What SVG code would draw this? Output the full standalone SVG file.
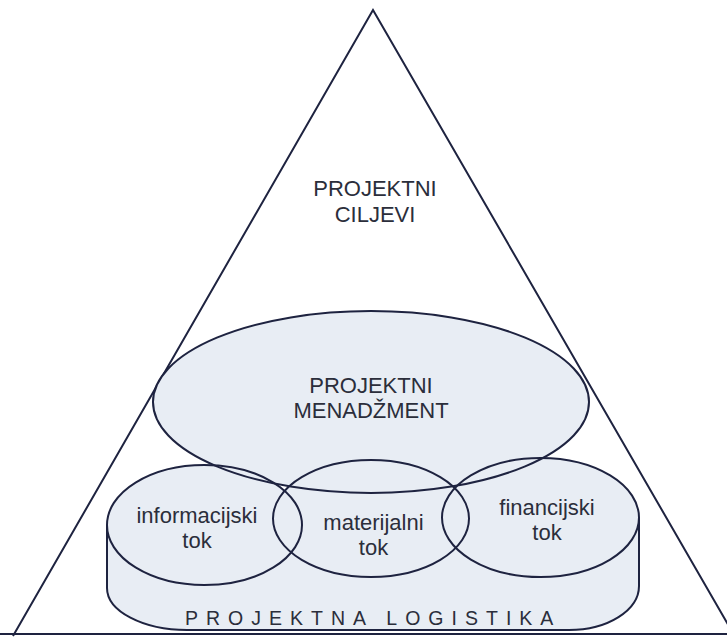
<svg xmlns="http://www.w3.org/2000/svg" xmlns:xlink="http://www.w3.org/1999/xlink" width="727" height="639" viewBox="0 0 727 639">
  <style>
    .ln { fill: none; stroke: #1e2340; stroke-width: 2; }
    .fl { fill: #e8edf4; stroke: none; }
    .t { font-family: "Liberation Sans", Arial, sans-serif; font-size: 22px; fill: #2b2e3b; text-anchor: middle; }
    .lt { font-family: "Liberation Sans", Arial, sans-serif; font-size: 19.5px; fill: #2b2e3b; letter-spacing: 8px; }
  </style>
  <defs>
    <ellipse id="e-mgmt" cx="371" cy="402" rx="218" ry="91"/>
    <ellipse id="e-info" cx="204.5" cy="525" rx="97.5" ry="60"/>
    <ellipse id="e-mat" cx="371" cy="518.5" rx="98" ry="58.5"/>
    <ellipse id="e-fin" cx="540.5" cy="517.5" rx="98.5" ry="59.5"/>
    <path id="cyl-fill" d="M107,525 V588 A80,42 0 0 0 187,630 H569 A70,44 0 0 0 639,586 V518 Z"/>
  </defs>
  <rect width="727" height="639" fill="#ffffff"/>

  <g id="triangle">
    <polyline class="ln" points="13,636 373,10 737,640"/>
    <line class="ln" x1="0" y1="634" x2="727" y2="634" stroke-width="2.6"/>
    <text class="t" x="375" y="196">PROJEKTNI</text>
    <text class="t" x="375" y="222">CILJEVI</text>
  </g>

  <g id="fills">
    <use xlink:href="#cyl-fill" class="fl"/>
    <use xlink:href="#e-mgmt" class="fl"/>
    <use xlink:href="#e-info" class="fl"/>
    <use xlink:href="#e-mat" class="fl"/>
    <use xlink:href="#e-fin" class="fl"/>
  </g>

  <g id="logistika">
    <path class="ln" d="M107,525 V588 A80,42 0 0 0 187,630 H569 A70,44 0 0 0 639,586 V518"/>
    <text class="lt" x="185" y="625">PROJEKTNA LOGISTIKA</text>
  </g>

  <g id="menadzment">
    <use xlink:href="#e-mgmt" class="ln"/>
    <text class="t" x="371" y="393">PROJEKTNI</text>
    <text class="t" x="371" y="418">MENADŽMENT</text>
  </g>

  <g id="informacijski">
    <use xlink:href="#e-info" class="ln"/>
    <text class="t" x="197" y="523">informacijski</text>
    <text class="t" x="197" y="548">tok</text>
  </g>

  <g id="materijalni">
    <use xlink:href="#e-mat" class="ln"/>
    <text class="t" x="373.5" y="530">materijalni</text>
    <text class="t" x="373.5" y="555">tok</text>
  </g>

  <g id="financijski">
    <use xlink:href="#e-fin" class="ln"/>
    <text class="t" x="547" y="515">financijski</text>
    <text class="t" x="547" y="540">tok</text>
  </g>

  <g id="connectors"></g>
</svg>
